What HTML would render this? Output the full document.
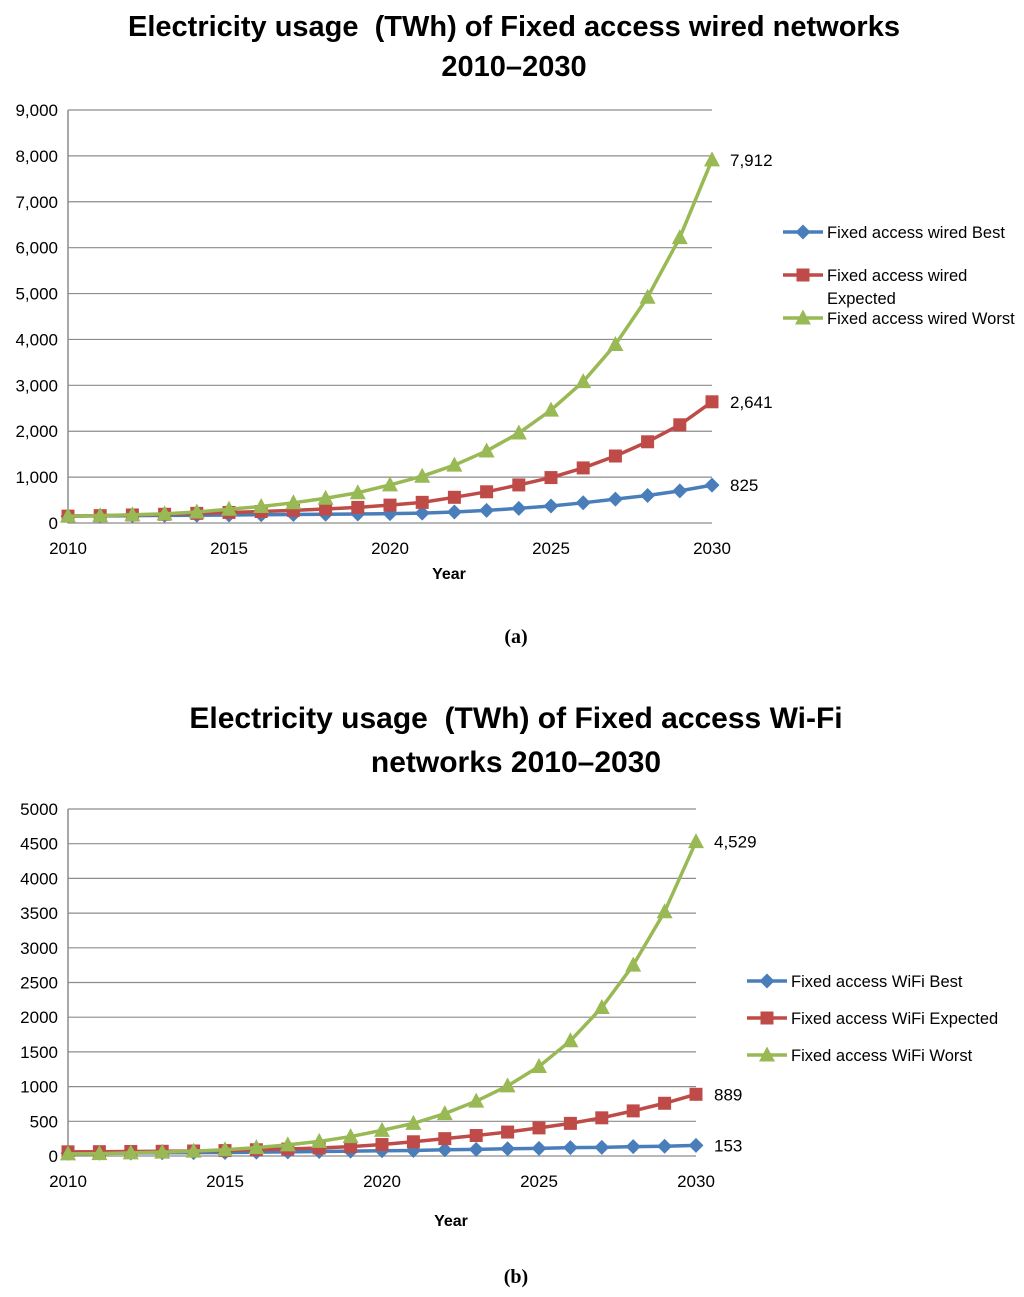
<!DOCTYPE html>
<html><head><meta charset="utf-8">
<style>
body{margin:0;background:#fff;width:1024px;height:1297px;overflow:hidden}
svg{display:block;font-family:"Liberation Sans",sans-serif}
text{white-space:pre}
</style></head><body>
<svg id="s" width="1024" height="1297"></svg>
<script>
const years=[2010,2011,2012,2013,2014,2015,2016,2017,2018,2019,2020,2021,2022,2023,2024,2025,2026,2027,2028,2029,2030];
const wiredBest=[150,155,160,165,170,175,180,185,190,195,205,215,240,275,320,370,440,520,600,700,825];
const wiredExpected=[150,160,175,190,210,230,250,275,305,340,390,450,560,680,830,990,1200,1460,1770,2140,2641];
const wiredWorst=[150,160,180,200,240,300,360,440,540,660,830,1020,1260,1570,1960,2460,3080,3890,4920,6220,7912];
const wifiBest=[40,42,44,46,48,50,55,60,65,70,75,80,90,95,105,110,120,125,135,140,153];
const wifiExpected=[60,62,65,68,72,78,90,100,115,135,165,205,250,295,345,405,470,550,650,760,889];
const wifiWorst=[30,35,45,55,70,90,120,160,210,280,370,470,610,790,1010,1290,1660,2140,2750,3520,4529];
const ticksA=[0,1000,2000,3000,4000,5000,6000,7000,8000,9000];
const tickLabelsA=["0","1,000","2,000","3,000","4,000","5,000","6,000","7,000","8,000","9,000"];
const ticksB=[0,500,1000,1500,2000,2500,3000,3500,4000,4500,5000];
const tickLabelsB=["0","500","1000","1500","2000","2500","3000","3500","4000","4500","5000"];
const xTicks=[2010,2015,2020,2025,2030];
const labelsA=["825","2,641","7,912"];
const labelsB=["153","889","4,529"];
const legendA=[["Fixed access wired Best"],["Fixed access wired","Expected"],["Fixed access wired Worst"]];
const legendB=[["Fixed access WiFi Best"],["Fixed access WiFi Expected"],["Fixed access WiFi Worst"]];

const NS="http://www.w3.org/2000/svg";
const svg=document.getElementById('s');
const colors=["#4a7ebb","#be4b48","#98b954"];
const markerNames=["diamond","square","triangle"];
function el(t,a,p){const e=document.createElementNS(NS,t);for(const k in a)e.setAttribute(k,a[k]);(p||svg).appendChild(e);return e;}
function txt(s,x,y,a,p){const e=el('text',Object.assign({x:x,y:y},a),p);e.textContent=s;return e;}
function marker(type,x,y,c,g){
 let e;
 if(type==0)e=el('path',{d:`M${x} ${y-7.5}L${x+7.5} ${y}L${x} ${y+7.5}L${x-7.5} ${y}Z`,fill:c},g);
 else if(type==1)e=el('rect',{x:x-6.5,y:y-6.5,width:13,height:13,fill:c},g);
 else e=el('path',{d:`M${x} ${y-8.5}L${x+8} ${y+6.5}L${x-8} ${y+6.5}Z`,fill:c},g);
 return e;
}
function chart(cfg){
 const g=el('g',{});
 
 
 const X=v=>cfg.x0+(v-2010)/20*(cfg.x1-cfg.x0);
 const Y=v=>cfg.y0-v/cfg.ymax*(cfg.y0-cfg.y1);
 cfg.ticks.forEach((t,i)=>{
  const gl=el('line',{x1:cfg.x0,x2:cfg.x1,y1:Y(t),y2:Y(t),stroke:'#8c8c8c','stroke-width':1.2},g);
  
  
  const tl=txt(cfg.tickLabels[i],58,Y(t)+6,{'font-size':17,'text-anchor':'end',fill:'#000'},g);
  
  
 });
 const ax=el('line',{x1:cfg.x0,x2:cfg.x0,y1:cfg.y1,y2:cfg.y0,stroke:'#8c8c8c','stroke-width':1.5},g);
 
 
 xTicks.forEach(t=>{
  const tl=txt(String(t),X(t),cfg.y0+31,{'font-size':17,'text-anchor':'middle'},g);
  
  
 });
 const yt=txt('Year',cfg.yearX,cfg.yearY,{'font-size':16,'font-weight':'bold','text-anchor':'middle'},g);
 
 
 cfg.series.forEach((s,si)=>{
  const sg=el('g',{},g);
  
  
  const pts=years.map((yr,i)=>X(yr)+','+Y(s[i])).join(' ');
  const pl=el('polyline',{points:pts,fill:'none',stroke:colors[si],'stroke-width':3.5,'stroke-linejoin':'round'},sg);
  
  
  years.forEach((yr,i)=>{
   const m=marker(si,X(yr),Y(s[i]),colors[si],sg);
   
   
  });
  const dl=txt(cfg.endLabels[si],cfg.x1+18,Y(s[20])+6,{'font-size':17},g);
  
  
 });
 cfg.legend.forEach((lines,i)=>{
  const lg=el('g',{},g);
  
  
  const y=cfg.legY[i];
  el('line',{x1:cfg.legX,x2:cfg.legX+40,y1:y,y2:y,stroke:colors[i],'stroke-width':3.5},lg);
  marker(i,cfg.legX+20,y,colors[i],lg);
  lines.forEach((l,j)=>txt(l,cfg.legX+44,y+6+j*23,{'font-size':16.5},lg));
 });
}
chart({name:'chart-wired',x0:68,x1:712,y0:523,y1:110,ymax:9000,ticks:ticksA,tickLabels:tickLabelsA,
 series:[wiredBest,wiredExpected,wiredWorst],endLabels:labelsA,legend:legendA,legX:783,legY:[232,275,318],yearX:449,yearY:579});
chart({name:'chart-wifi',x0:68,x1:696,y0:1156,y1:809,ymax:5000,ticks:ticksB,tickLabels:tickLabelsB,
 series:[wifiBest,wifiExpected,wifiWorst],endLabels:labelsB,legend:legendB,legX:747,legY:[981,1018,1055],yearX:451,yearY:1226});
[['Electricity usage  (TWh) of Fixed access wired networks',514,36,29],['2010–2030',514,76,29],
 ['Electricity usage  (TWh) of Fixed access Wi-Fi',516,728,30],['networks 2010–2030',516,772,30]].forEach((t,i)=>{
 const e=txt(t[0],t[1],t[2],{'font-size':t[3],'font-weight':'bold','text-anchor':'middle'});
 
 
});
[['(a)',516,643],['(b)',516,1283]].forEach(t=>{
 const e=txt(t[0],t[1],t[2],{'font-size':20,'font-weight':'bold','text-anchor':'middle','font-family':'Liberation Serif, serif'});
 
 
});
</script>
</body></html>
